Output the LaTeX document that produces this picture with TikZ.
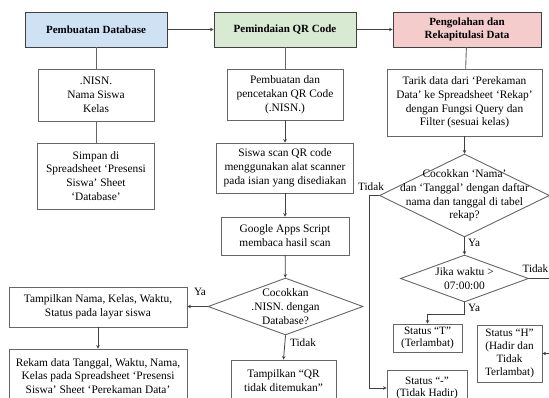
\documentclass[tikz,border=0pt]{standalone}
\usepackage{fontspec}
\setmainfont{Liberation Serif}
\usetikzlibrary{shapes.geometric,arrows.meta}
\definecolor{hblue}{HTML}{CFE2F3}
\definecolor{hgreen}{HTML}{D9EAD3}
\definecolor{hpink}{HTML}{F4CCCC}
\definecolor{ln}{HTML}{404040}
\definecolor{bd}{HTML}{666666}
\begin{document}
\begin{tikzpicture}[x=1pt,y=-1pt,
 box/.style={draw=bd, line width=0.9pt, fill=white, align=center, inner sep=1pt, font=\fontsize{11.4}{13.8}\selectfont},
 hdr/.style={box, draw=ln, font=\fontsize{11}{13.5}\selectfont\bfseries, minimum width=142pt, minimum height=35pt},
 dia/.style={diamond, draw=bd, line width=0.9pt, inner sep=0pt},
 txt/.style={align=center, inner sep=0pt, font=\fontsize{11.4}{13.8}\selectfont},
 lbl/.style={inner sep=0pt, font=\fontsize{11.2}{13}\selectfont},
 arr/.style={draw=ln, line width=0.8pt, -{Stealth[length=3.5pt,width=3.5pt]}},
 con/.style={draw=bd, line width=0.9pt},
 small/.style={inner sep=0pt, font=\fontsize{11.2}{12.8}\selectfont},
]
\useasboundingbox (0,0) rectangle (549,398);
\clip (0,0) rectangle (549,398);

% column 1
\node[hdr, fill=hblue] (db) at (96,29.5) {Pembuatan Database};
\node[box, minimum width=116pt, minimum height=52pt] (nisn) at (96,95) {.NISN.\\Nama Siswa\\Kelas};
\node[box, minimum width=117pt, minimum height=66pt] (simpan) at (96,176) {Simpan di\\Spreadsheet ‘Presensi\\Siswa’ Sheet\\‘Database’};

% column 2
\node[hdr, fill=hgreen] (scanh) at (285,29.5) {Pemindaian QR Code};
\node[box, minimum width=116pt, minimum height=51pt] (cetak) at (285,94.5) {Pembuatan dan\\pencetakan QR Code\\(.NISN.)};
\node[box, minimum width=137pt, minimum height=50pt] (siswa) at (285,168) {Siswa scan QR code\\menggunakan alat scanner\\pada isian yang disediakan};
\node[box, minimum width=128pt, minimum height=38pt] (gas) at (285,236) {Google Apps Script\\membaca hasil scan};
\node[dia, minimum width=155pt, minimum height=57pt] (d1) at (285.5,306.5) {};
\node[txt] (d1t) at (d1.center) {Cocokkan\\.NISN. dengan\\Database?};
\node[box, minimum width=105pt, minimum height=41pt] (qr) at (283.5,380.5) {Tampilkan “QR\\tidak ditemukan”};
\node[box, minimum width=178pt, minimum height=40pt] (tamp) at (98,307) {Tampilkan Nama, Kelas, Waktu,\\Status pada layar siswa};
\node[box, minimum width=178pt, minimum height=54pt] (rekam) at (98,376) {Rekam data Tanggal, Waktu, Nama,\\Kelas pada Spreadsheet ‘Presensi\\Siswa’ Sheet ‘Perekaman Data’};

% column 3
\node[hdr, fill=hpink, minimum width=148pt] (rekh) at (467,29.5) {Pengolahan dan\\Rekapitulasi Data};
\node[box, minimum width=155pt, minimum height=67pt] (tarik) at (464.5,102.5) {Tarik data dari ‘Perekaman\\Data’ ke Spreadsheet ‘Rekap’\\dengan Fungsi Query dan\\Filter (sesuai kelas)};
\node[dia, minimum width=170pt, minimum height=83pt] (dn) at (464.5,195.5) {};
\node[txt] (dnt) at (dn.center) {Cocokkan ‘Nama’\\dan ‘Tanggal’ dengan daftar\\nama dan tanggal di tabel\\rekap?};
\node[dia, minimum width=128pt, minimum height=47pt] (dw) at (464.5,278.5) {};
\node[txt] (dwt) at (dw.center) {Jika waktu >\\07:00:00};
\node[box, small, minimum width=69pt, minimum height=28pt] (st) at (427.5,338) {Status “T”\\(Terlambat)};
\node[box, small, minimum width=65pt, minimum height=57pt] (sh) at (509.5,353.5) {Status “H”\\(Hadir dan\\Tidak\\Terlambat)};
\node[box, small, minimum width=80pt, minimum height=36pt] (sd) at (427,388) {Status “-”\\(Tidak Hadir)};

\coordinate (cl) at (369,0);
\coordinate (cr) at (560,0);

% connectors
\draw[con] (db) -- (nisn);
\draw[con] (nisn) -- (simpan);
\draw[arr] (db) -- (scanh);
\draw[arr] (scanh) -- (rekh);
\draw[con] (scanh) -- (cetak);
\draw[arr] (cetak) -- (siswa);
\draw[arr] (siswa) -- (gas);
\draw[arr] (gas) -- (d1);
\draw[arr] (d1.west) -- (tamp.east |- d1.west);
\node[lbl] (ya1) at (200,292) {Ya};
\draw[arr] (d1.south) -- (qr.north);
\node[lbl] (td1) at (303,343) {Tidak};
\draw[arr] (tamp) -- (rekam);
\draw[con] (rekh) -- (tarik);
\draw[arr] (tarik) -- (dn);
\draw[arr] (dn) -- (dw);
\node[lbl] (ya2) at (474,243) {Ya};
\draw[arr] (dw.south) -- ++(0,12) -| (st.north);
\node[lbl] (ya3) at (474,308) {Ya};
\draw[arr] (dn.west) -- (dn.west -| cl) -- (cl |- sd.west) -- (sd.west);
\node[lbl] (td2) at (371,187) {Tidak};
\draw[arr] (dw.east) -- (dw.east -| cr) -- (cr |- sh.east) -- (sh.east);
\node[lbl, anchor=east] (td3) at (548.5,269) {Tidak};
\end{tikzpicture}
\end{document}
